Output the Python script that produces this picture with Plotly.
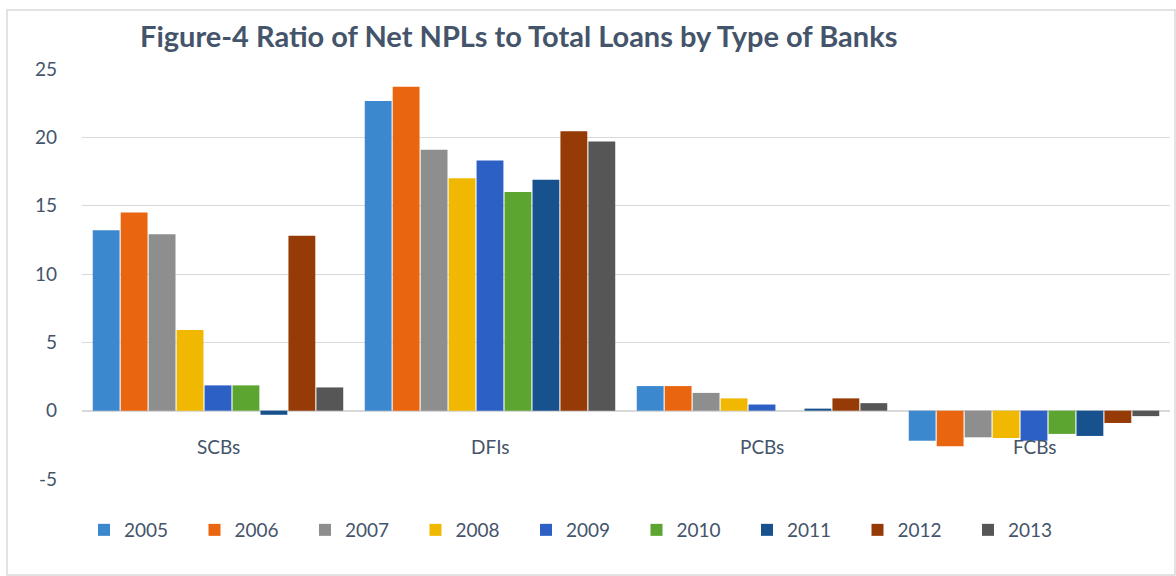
import plotly.graph_objects as go

categories = ["SCBs", "DFIs", "PCBs", "FCBs"]
years = ["2005", "2006", "2007", "2008", "2009", "2010", "2011", "2012", "2013"]
values = {
    "2005": [13.2, 22.65, 1.8, -2.2],
    "2006": [14.5, 23.7, 1.8, -2.6],
    "2007": [12.9, 19.1, 1.3, -1.95],
    "2008": [5.9, 17.0, 0.9, -2.0],
    "2009": [1.85, 18.3, 0.45, -2.2],
    "2010": [1.85, 16.0, 0.0, -1.7],
    "2011": [-0.3, 16.9, 0.15, -1.85],
    "2012": [12.8, 20.45, 0.9, -0.9],
    "2013": [1.7, 19.7, 0.55, -0.4],
}
colors = ["#3C88CE", "#E9650F", "#8E8E8E", "#F0B800", "#2C60C4",
          "#5BA530", "#17528E", "#963A06", "#565656"]
tick_vals = [-5, 0, 5, 10, 15, 20, 25]
tick_text = ["-5", "0", "5", "10", "15", "20", "25"]

W, H = 1176, 576
ml, mr, mt, mb = 82, 6, 69, 97
pw, ph = W - ml - mr, H - mt - mb
text_color = "#44546A"
font_family = "Lato, 'Open Sans', sans-serif"

fig = go.Figure()
for y, c in zip(years, colors):
    fig.add_trace(go.Bar(x=categories, y=values[y], name=y, marker=dict(color=c, line=dict(width=0))))

for cat in categories:
    fig.add_annotation(x=cat, y=-2.6, xref="x", yref="y", text=cat, showarrow=False,
                       font=dict(size=19, color=text_color, family=font_family))

def px_x(p):
    return (p - ml) / pw

def px_y(p):
    return (H - mb - p) / ph

fig.add_shape(type="rect", xref="paper", yref="paper",
              x0=px_x(7), x1=px_x(1175), y0=px_y(575), y1=px_y(10),
              line=dict(color="#D9D9D9", width=1.5), fillcolor="rgba(0,0,0,0)", layer="below")

fig.update_layout(
    width=W, height=H,
    margin=dict(l=ml, r=mr, t=mt, b=mb, autoexpand=False),
    paper_bgcolor="white", plot_bgcolor="white",
    barmode="group", bargap=0.075, bargroupgap=0.04,
    title=dict(text="<b>Figure-4 Ratio of Net NPLs to Total Loans by Type of Banks</b>",
               x=140 / W, xanchor="left", xref="container",
               y=1 - 37 / H, yanchor="middle", yref="container",
               font=dict(size=29, color=text_color, family=font_family)),
    xaxis=dict(showticklabels=False, showgrid=False, zeroline=False, showline=False, ticks=""),
    yaxis=dict(range=[-5, 25], tickvals=tick_vals, ticktext=tick_text,
               showgrid=True, gridcolor="#D9D9D9", gridwidth=1,
               zeroline=True, zerolinecolor="#D9D9D9", zerolinewidth=1.5, showline=False,
               ticklabelstandoff=24,
               tickfont=dict(size=19, color=text_color, family=font_family)),
    legend=dict(orientation="h", x=px_x(84), xanchor="left", y=px_y(530), yanchor="middle",
                font=dict(size=19, color=text_color, family=font_family),
                entrywidth=65.5, entrywidthmode="pixels",
                traceorder="normal", bgcolor="rgba(0,0,0,0)"),
    showlegend=True,
)

fig.write_html("out.html")
